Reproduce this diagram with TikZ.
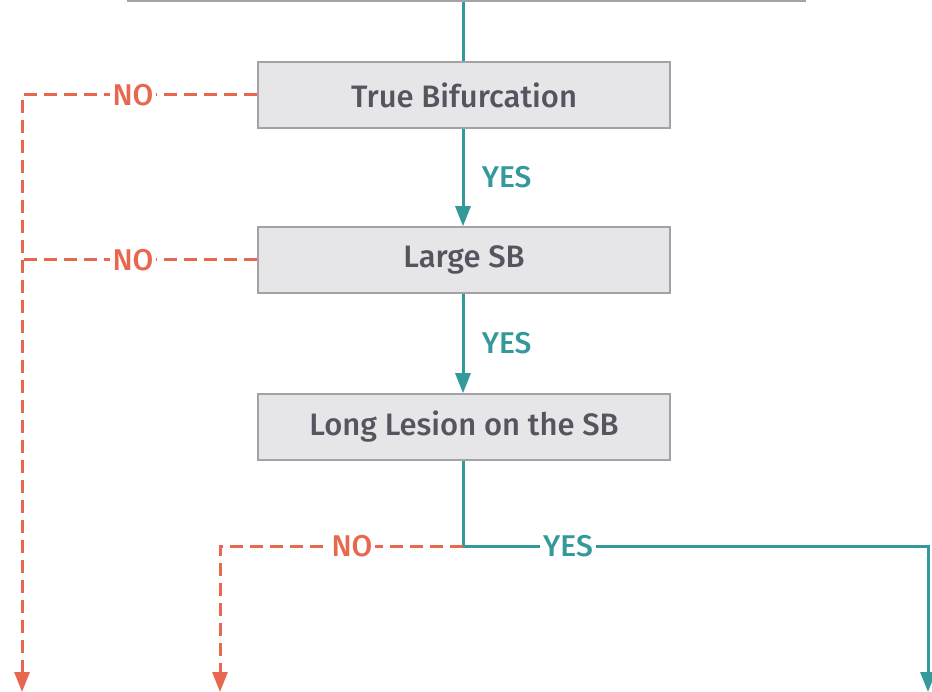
\documentclass[tikz,border=0pt]{standalone}
\usepackage{fontspec}
\setmainfont{Fira Sans}[UprightFont={* Medium}]
\usetikzlibrary{arrows.meta}
\definecolor{teal2}{HTML}{33999A}
\definecolor{red2}{HTML}{E8684F}
\definecolor{boxfill}{HTML}{E6E6E9}
\definecolor{boxline}{HTML}{A3A3A6}
\definecolor{txt}{HTML}{55555F}
\tikzset{
  box/.style={draw=boxline, line width=1.5pt, fill=boxfill, minimum width=412pt, minimum height=66pt, inner sep=0pt, text=txt, font=\fontsize{31}{34}\selectfont},
  yesline/.style={draw=teal2, line width=3pt},
  noline/.style={draw=red2, line width=3pt, dash pattern=on 13pt off 7pt},
  tip/.style={-{Triangle[length=20pt,width=15pt]}},
  yeslab/.style={fill=white, text=teal2, font=\fontsize{30}{33}\selectfont, inner sep=3pt},
  nolab/.style={fill=white, text=red2, font=\fontsize{30}{33}\selectfont, inner sep=3pt},
}
\begin{document}
\begin{tikzpicture}[x=1pt,y=-1pt]
\useasboundingbox (0,0) rectangle (932,692);
\fill[white] (0,0) rectangle (932,692);
\node[box, minimum width=677pt, minimum height=40pt, anchor=south] (top) at (466.5,2) {};
\node[box] (b1) at (464,95) {True Bifurcation};
\node[box] (b2) at (464,260) {Large SB};
\node[box] (b3) at (464,427) {Long Lesion on the SB};
\coordinate (j) at (463,546);
\coordinate (r1) at (928,546);
\coordinate (r2) at (928,692);
\coordinate (m1) at (220,546);
\coordinate (m2) at (220,692);
\coordinate (l1) at (22,95);
\coordinate (l2) at (22,260);
\coordinate (l3) at (22,692);
% teal
\draw[yesline] (top.south -| 463,0) -- (b1.north -| 463,0);
\draw[yesline, tip, teal2] (b1.south -| 463,0) -- (b2.north -| 463,0) node[midway, right=14pt, text=teal2, font=\fontsize{30}{33}\selectfont] {YES};
\draw[yesline, tip, teal2] (b2.south -| 463,0) -- (b3.north -| 463,0) node[midway, right=14pt, text=teal2, font=\fontsize{30}{33}\selectfont] {YES};
\draw[yesline, tip, teal2] (b3.south -| 463,0) -- (j) -- (r1) -- (r2);
\node[yeslab] (y3) at (568,546) {YES};
% red
\draw[noline, tip, red2] (j) -- (m1) -- (m2);
\node[nolab] (n3) at (352,546) {NO};
\draw[noline, tip, red2] (b1.west) -- (l1) -- (l3);
\node[nolab] (n1) at (133,95) {NO};
\draw[noline, red2] (b2.west) -- (l2);
\node[nolab] (n2) at (133,260) {NO};
\end{tikzpicture}
\end{document}
